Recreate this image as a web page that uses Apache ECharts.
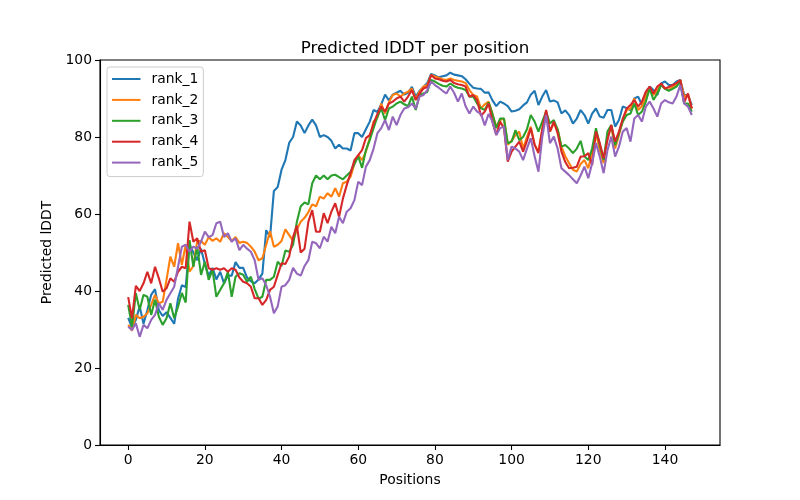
<!DOCTYPE html>
<html>
<head>
<meta charset="utf-8">
<script src="https://cdn.jsdelivr.net/npm/echarts@6/dist/echarts.min.js"></script>
<style>
html,body{margin:0;padding:0;background:#fff;}
#chart{width:800px;height:500px;}
</style>
</head>
<body>
<div id="chart"></div>
<script>
const seriesNames = ['rank_1', 'rank_2', 'rank_3', 'rank_4', 'rank_5'];
const xTicks = [0, 20, 40, 60, 80, 100, 120, 140];
const yTicks = [0, 20, 40, 60, 80, 100];

const rank1 = [
  33, 30.5, 32.5, 36, 31.5, 35, 39, 40.5, 35, 33.5,
  34.5, 33, 31.5, 38, 41.5, 41, 52, 50, 48, 51,
  47, 44, 46, 43, 45, 42, 44, 44, 47.5, 46,
  46, 43.5, 42.5, 42, 43, 44.5, 55.8, 54, 66, 67,
  71.5, 74, 78.5, 80, 84, 83, 81, 83, 84.5, 83,
  80, 80.5, 80, 79, 77, 78, 77, 77, 76.5, 81,
  81, 80, 82, 84, 87, 86.5, 88.5, 91, 89.5, 91,
  91.5, 92, 91, 91.5, 93, 90.5, 92, 93, 94, 96.4,
  96, 95.5, 95.8, 96, 96.7, 96.2, 96, 95.8, 95, 93.8,
  92.8, 92.6, 92.5, 91.5, 91.6, 89.5, 88, 89.2, 88.7, 88,
  86.6, 86.8, 87.2, 88.2, 89, 91, 92, 88.3, 90.5, 92.2,
  89.2, 89.5, 89, 86.1, 86.9, 85.7, 83.5, 84.8, 87, 85.7,
  83.5, 86.1, 87.4, 85.3, 85, 87, 87, 82.7, 84.4, 87.9,
  87.5, 87, 90, 90.5, 88.3, 90.5, 93.1, 92.2, 90.9, 93.9,
  94.4, 93.5, 93.5, 94.4, 94.8, 90.9, 90.9, 88.3
];
const rank2 = [
  31.2, 29.7, 33.8, 32.9, 33.3, 34.2, 36.4, 39, 36.8, 37.2,
  42.9, 48.9, 46.3, 52.4, 46.8, 52, 45, 46.5, 53, 53,
  52, 54, 53, 53.7, 52.8, 55, 54, 53, 54, 52.5,
  52.8, 52.5, 51.5, 50.2, 48, 48.5, 52, 55.5, 51.5, 52,
  53, 56, 54.5, 53, 56, 58, 59, 60.5, 62.5, 62,
  64.5, 64, 65.4, 64.5, 66.7, 64.5, 68, 68.4, 69.7, 73,
  75.3, 74, 76.2, 79.7, 84, 85, 88.7, 86.1, 89, 90.9,
  91.3, 90.5, 91.3, 91.8, 92.6, 89.8, 91.8, 93.1, 93.5, 96.1,
  95.7, 95.4, 95, 94.8, 95.2, 94.8, 94.6, 94.4, 94, 92.2,
  90.9, 90.5, 87.4, 88.5, 89.2, 86, 82.7, 84.4, 84.8, 78,
  79, 80.5, 81.4, 77, 80, 82.7, 78, 76.2, 82, 85.7,
  81.4, 83.5, 82, 77.5, 75, 73.2, 71.5, 71, 73, 74,
  71.9, 76, 81, 76.6, 73.2, 80, 82.7, 77, 80.5, 84.4,
  87, 87.4, 90, 87, 88, 90.5, 92.6, 90.9, 92.2, 93.5,
  92.6, 92.2, 93, 93.5, 94.8, 90.5, 90.9, 87.4
];
const rank3 = [
  36.4, 30.7, 39.4, 35.1, 39, 38.5, 33.8, 37.7, 33.3, 31.2,
  32.9, 36.8, 32.9, 35.9, 39.5, 37, 53.2, 46.3, 51.5, 44.2,
  47.6, 42.9, 45.5, 38.5, 40.3, 42, 45, 38.5, 43.7, 44.6,
  44.2, 42.4, 43.7, 40.5, 38, 38.5, 42.9, 42.9, 43.7, 47.6,
  46.5, 50.5, 50.2, 52, 58, 62, 63, 62.5, 68, 70,
  69, 70, 69, 70, 70.2, 69.6, 69, 70, 71, 73,
  75, 72, 76.6, 79.2, 82.3, 85.3, 87.4, 84.4, 87.4, 87.9,
  88.7, 89.2, 88.5, 88, 90.5, 87, 90.9, 91.3, 91.7, 94.8,
  94.4, 93.8, 93.3, 93.1, 93.9, 93.2, 92.8, 92.6, 92.2, 90.5,
  90.5, 88.7, 87.5, 87, 89, 86, 82.3, 84.8, 84.8, 78.4,
  78.8, 81.8, 79.2, 80, 82, 85.7, 84, 81.4, 84, 86.6,
  83.5, 84.4, 82, 77.5, 77.9, 77, 75.8, 77, 79, 75,
  74, 77, 82.3, 77.9, 74, 81.4, 83.1, 77.9, 81, 84,
  85.7, 86.1, 88.7, 85.7, 86.6, 89.2, 92.6, 89.6, 91.3, 93.5,
  92.5, 92, 92.5, 93.1, 94.4, 88.7, 88.7, 86.6
];
const rank4 = [
  38.4, 32.9, 41.3, 40, 42, 45, 42, 46.3, 43.3, 39.8,
  40.7, 43.3, 42.4, 45, 46.3, 45.9, 58, 52.8, 53.7, 50.2,
  50.6, 45.9, 45.5, 45.9, 45.5, 45.9, 45, 45.9, 45.5, 43.5,
  42.4, 42, 41.1, 38.1, 38.1, 36.4, 37.7, 40.3, 41.1, 44.2,
  47.2, 47, 49, 54, 57, 50, 51, 58, 61, 55.4,
  55.4, 60.2, 57.6, 60.6, 62.8, 59.3, 64, 67.5, 70.6, 74,
  75.3, 76.6, 79.7, 80.5, 83.5, 86, 87.9, 86.6, 88.7, 89.2,
  90, 90.5, 89.2, 90.5, 92.2, 89.6, 91.3, 92.6, 93, 96.1,
  95.2, 95, 94.6, 94.4, 94.8, 94, 93.7, 93.5, 93.1, 90.5,
  90.9, 89.6, 85.5, 86.6, 88.7, 84, 80.5, 84, 82.3, 73.6,
  76.2, 77.5, 78.8, 76.2, 79, 82.3, 78, 75.8, 82, 87,
  81.4, 84, 81, 76.2, 73.5, 71.9, 72, 72.3, 74.9, 75,
  75.8, 72.7, 81.4, 78.4, 74.5, 79.2, 83.1, 78.8, 81.4, 84.8,
  87.4, 88.3, 89.6, 87.9, 89.2, 91.8, 93.1, 91.3, 93.1, 93.9,
  92.6, 93, 93.5, 94, 94.8, 89, 91.3, 87.4
];
const rank5 = [
  30.7, 29.9, 31.6, 28.1, 31.2, 30.3, 32.5, 33.8, 36.8, 35.1,
  37.7, 39.4, 41.1, 46.3, 51.5, 52, 50.2, 51.5, 51, 52.8,
  55.4, 54, 54.5, 57.6, 58, 54, 55, 52.8, 53.7, 50.6,
  52, 51, 50.2, 48, 42.9, 43.3, 41.5, 38.5, 34.2, 36,
  41.1, 41.5, 42.9, 46, 44.5, 44, 46.5, 48, 52.8, 52.4,
  51.1, 54.1, 52.8, 56.7, 55, 59.3, 57.6, 60.6, 61.5, 63.6,
  68.4, 67.5, 72.3, 74, 77, 81, 82.3, 84.4, 81.8, 85.3,
  83.1, 85.7, 87.4, 87.7, 88.7, 87.4, 90.5, 90.9, 92.2, 94.4,
  93.5, 92.8, 92, 91.3, 93.1, 91.5, 89.2, 91.3, 88, 86.1,
  87.9, 86.6, 86, 83, 86, 84, 80.5, 82.3, 82.7, 74,
  77.5, 77, 76.2, 74, 77, 79.7, 75, 71, 80, 85.7,
  78.4, 80.1, 77, 71.9, 71, 70.1, 69, 68, 70, 72.3,
  69.3, 73.2, 78.4, 74.9, 70.6, 76.6, 80.1, 74.9, 77.5, 81.4,
  82.3, 78.8, 84.8, 85.7, 84, 87.9, 89.2, 87.4, 85.3, 88.7,
  89.6, 89, 88.7, 90.5, 93.5, 88.7, 87.9, 85.7
];

const allSeries = [rank1, rank2, rank3, rank4, rank5];
const colors = ['#1f77b4', '#ff7f0e', '#2ca02c', '#d62728', '#9467bd'];
const positions = rank1.map((_, i) => i);

const font = 'DejaVu Sans';
const chart = echarts.init(document.getElementById('chart'), null, {renderer: 'canvas'});
chart.setOption({
  animation: false,
  backgroundColor: '#ffffff',
  title: {
    text: 'Predicted lDDT per position',
    left: 410,
    textAlign: 'center',
    top: 35,
    textStyle: {fontFamily: font, fontSize: 16.7, fontWeight: 'normal', color: '#000'}
  },
  legend: {
    orient: 'vertical',
    left: 107,
    top: 67,
    padding: [4, 5, 6, 5],
    itemGap: 4.9,
    itemWidth: 28.5,
    itemHeight: 2,
    icon: 'rect',
    borderColor: '#cccccc',
    borderWidth: 1,
    borderRadius: 3,
    backgroundColor: 'rgba(255,255,255,0.8)',
    textStyle: {fontFamily: font, fontSize: 13.9, color: '#000', lineHeight: 16, padding: [0, 0, 0, 6]},
    data: seriesNames
  },
  grid: {
    left: 100, right: 80, top: 60, bottom: 55,
    show: true, borderColor: '#000', borderWidth: 1.1, backgroundColor: 'transparent'
  },
  xAxis: {
    type: 'value',
    min: -7.35,
    max: 154.35,
    name: 'Positions',
    nameLocation: 'middle',
    nameGap: 28,
    nameTextStyle: {fontFamily: font, fontSize: 13.9, color: '#000'},
    splitLine: {show: false},
    axisLine: {show: true, onZero: false, lineStyle: {color: '#000', width: 1.1}},
    axisTick: {show: true, inside: false, length: 5, customValues: xTicks, lineStyle: {color: '#000', width: 1.1}},
    axisLabel: {margin: 8, fontFamily: font, fontSize: 13.9, color: '#000', customValues: xTicks}
  },
  yAxis: {
    type: 'value',
    min: 0,
    max: 100,
    interval: 20,
    name: 'Predicted lDDT',
    nameLocation: 'middle',
    nameGap: 38,
    nameTextStyle: {fontFamily: font, fontSize: 13.9, color: '#000'},
    splitLine: {show: false},
    axisLine: {show: true, onZero: false, lineStyle: {color: '#000', width: 1.1}},
    axisTick: {show: true, inside: false, length: 5, lineStyle: {color: '#000', width: 1.1}},
    axisLabel: {margin: 8, fontFamily: font, fontSize: 13.9, color: '#000'}
  },
  series: allSeries.map((vals, k) => ({
    name: seriesNames[k],
    type: 'line',
    showSymbol: false,
    symbol: 'none',
    color: colors[k],
    lineStyle: {width: 2.1, color: colors[k]},
    data: vals.map((v, i) => [positions[i], v])
  }))
});
</script>
</body>
</html>
